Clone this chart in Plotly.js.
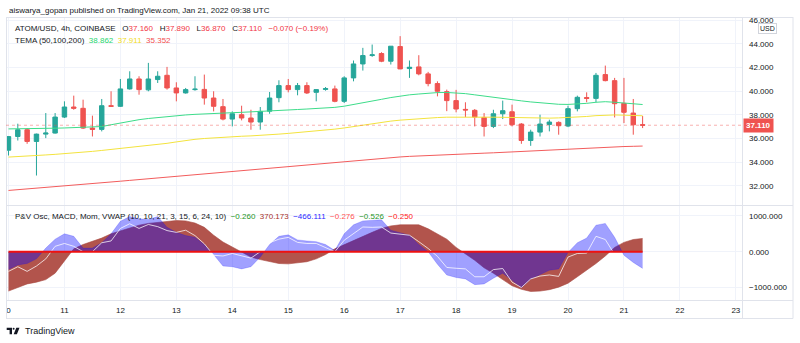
<!DOCTYPE html>
<html><head><meta charset="utf-8">
<script src="https://cdn.plot.ly/plotly-3.0.1.min.js"></script>
<style>html,body{margin:0;padding:0;background:#fff;}#chart{width:800px;height:343px;}</style>
</head><body><div id="chart"></div>
<script>
// ---------- DATA ----------
const times = [
 '2022-01-10 00:00','2022-01-10 04:00','2022-01-10 08:00','2022-01-10 12:00','2022-01-10 16:00','2022-01-10 20:00',
 '2022-01-11 00:00','2022-01-11 04:00','2022-01-11 08:00','2022-01-11 12:00','2022-01-11 16:00','2022-01-11 20:00',
 '2022-01-12 00:00','2022-01-12 04:00','2022-01-12 08:00','2022-01-12 12:00','2022-01-12 16:00','2022-01-12 20:00',
 '2022-01-13 00:00','2022-01-13 04:00','2022-01-13 08:00','2022-01-13 12:00','2022-01-13 16:00','2022-01-13 20:00',
 '2022-01-14 00:00','2022-01-14 04:00','2022-01-14 08:00','2022-01-14 12:00','2022-01-14 16:00','2022-01-14 20:00',
 '2022-01-15 00:00','2022-01-15 04:00','2022-01-15 08:00','2022-01-15 12:00','2022-01-15 16:00','2022-01-15 20:00',
 '2022-01-16 00:00','2022-01-16 04:00','2022-01-16 08:00','2022-01-16 12:00','2022-01-16 16:00','2022-01-16 20:00',
 '2022-01-17 00:00','2022-01-17 04:00','2022-01-17 08:00','2022-01-17 12:00','2022-01-17 16:00','2022-01-17 20:00',
 '2022-01-18 00:00','2022-01-18 04:00','2022-01-18 08:00','2022-01-18 12:00','2022-01-18 16:00','2022-01-18 20:00',
 '2022-01-19 00:00','2022-01-19 04:00','2022-01-19 08:00','2022-01-19 12:00','2022-01-19 16:00','2022-01-19 20:00',
 '2022-01-20 00:00','2022-01-20 04:00','2022-01-20 08:00','2022-01-20 12:00','2022-01-20 16:00','2022-01-20 20:00',
 '2022-01-21 00:00','2022-01-21 04:00','2022-01-21 08:00'];

const open  = [35.00,36.16,36.73,35.74,36.36,36.45, 37.80,38.65,38.54,36.87,36.76,38.76, 38.71,40.18,41.02,40.10,40.97,41.33,
               40.26,39.84,40.12,40.14,39.41,38.68, 37.63,38.00,37.72,37.38,38.30,39.44, 40.46,40.12,40.46,39.89,40.14,40.18,
               39.13,41.11,42.29,43.00,43.17,42.52, 43.76,41.90,42.04,41.45,40.63,39.95, 39.19,38.45,38.37,37.77,37.01,38.08,
               38.25,37.21,35.82,36.53,37.18,37.35, 37.04,38.51,39.45,39.38,41.39,40.88, 38.96,38.14,37.16];
const high  = [36.20,37.24,36.87,36.40,38.14,38.14, 39.13,39.61,39.27,37.92,39.33,39.98, 41.02,41.67,41.25,42.38,41.67,42.04,
               40.74,40.26,41.25,41.39,39.98,39.33, 38.28,38.76,38.42,38.65,39.92,40.91, 41.02,40.68,40.74,40.15,40.34,40.46,
               41.25,42.58,43.65,43.93,43.28,43.80, 44.64,42.58,43.03,41.62,40.82,40.12, 40.10,39.05,38.48,38.14,38.42,39.19,
               38.85,37.29,36.73,38.00,37.58,37.44, 38.76,39.61,39.89,41.53,42.15,41.11, 41.11,39.33,37.89];
const low   = [34.55,35.82,35.54,32.86,36.02,36.40, 37.72,38.42,36.79,36.16,36.59,38.68, 38.65,40.12,39.69,39.98,40.68,40.12,
               39.13,39.78,40.03,38.85,38.28,37.52, 37.01,37.52,36.73,36.73,38.08,39.05, 39.89,39.64,39.75,39.13,40.03,39.05,
               38.99,40.82,41.73,42.89,42.44,42.24, 41.85,41.11,41.33,40.40,39.55,38.30, 38.20,37.80,37.01,36.16,36.87,37.63,
               37.01,35.54,35.37,36.16,36.59,36.31, 36.95,38.28,39.05,39.05,40.82,37.77, 37.29,36.31,36.87];
const close = [36.15,36.73,35.74,36.36,36.45,37.80, 38.65,38.54,36.87,36.76,38.76,38.71, 40.18,41.02,40.12,41.02,41.25,40.26,
               39.84,40.12,40.16,39.41,38.71,37.63, 38.08,37.72,37.38,38.28,39.41,40.46, 40.12,40.46,39.84,40.12,40.20,39.13,
               41.11,42.29,43.00,43.06,42.52,43.79, 41.87,42.01,41.45,40.63,39.98,39.19, 38.48,38.40,37.80,37.01,38.08,38.34,
               37.15,35.82,36.53,37.21,37.38,37.07, 38.51,39.47,39.38,41.33,40.88,38.93, 38.20,37.15,37.11];

const tema50  = [36.80,36.80,36.81,36.82,36.84,36.86, 36.88,36.91,36.93,36.96,37.00,37.15, 37.30,37.45,37.58,37.68,37.77,37.85,
                 37.92,37.98,38.03,38.08,38.12,38.15, 38.17,38.20,38.23,38.27,38.31,38.35, 38.40,38.44,38.48,38.52,38.57,38.62,
                 38.72,38.85,39.00,39.15,39.30,39.45, 39.58,39.68,39.75,39.82,39.87,39.88, 39.85,39.78,39.68,39.57,39.45,39.35,
                 39.26,39.17,39.08,39.00,38.93,38.88, 38.87,38.90,38.96,39.05,39.10,39.05, 38.98,38.92,38.86];
const tema100 = [34.42,34.45,34.50,34.55,34.60,34.65, 34.70,34.76,34.82,34.90,34.98,35.06, 35.14,35.22,35.30,35.38,35.48,35.58,
                 35.70,35.82,35.92,35.99,36.05,36.10, 36.14,36.18,36.21,36.24,36.30,36.36, 36.42,36.48,36.55,36.62,36.70,36.78,
                 36.88,37.00,37.12,37.25,37.36,37.46, 37.54,37.61,37.67,37.72,37.76,37.79, 37.80,37.81,37.81,37.80,37.79,37.78,
                 37.76,37.73,37.71,37.70,37.71,37.73, 37.76,37.80,37.85,37.92,37.97,37.98, 37.96,37.93,37.91];
const tema200 = [31.60,31.66,31.72,31.79,31.85,31.92, 31.98,32.05,32.12,32.18,32.25,32.32, 32.38,32.45,32.52,32.58,32.65,32.72,
                 32.79,32.86,32.93,33.00,33.07,33.14, 33.21,33.28,33.35,33.42,33.49,33.56, 33.63,33.70,33.77,33.84,33.91,33.98,
                 34.05,34.12,34.19,34.26,34.32,34.38, 34.43,34.48,34.52,34.56,34.60,34.63, 34.66,34.69,34.72,34.75,34.78,34.82,
                 34.86,34.90,34.94,34.98,35.03,35.08, 35.13,35.17,35.21,35.24,35.27,35.29, 35.31,35.33,35.35];

const oscMacd = [-1100,-1000,-900,-850,-780,-600, -250,80,200,280,380,500, 580,660,740,790,810,840,
                 870,860,800,680,460,270, 130,-20,-150,-220,-280,-330, -340,-320,-280,-200,-80,80,
                 200,320,430,540,650,720, 750,760,750,640,500,350, 120,-60,-240,-450,-600,-780,
                 -950,-1050,-1110,-1100,-1060,-990, -880,-700,-520,-330,-120,120, 260,340,370];
const oscMom  = [-500,-370,-330,-200,100,350, 500,430,100,100,250,500, 850,980,920,900,980,680,
                 540,450,400,200,-80,-400, -420,-480,-420,-150,200,430, 470,330,300,280,200,30,
                 500,750,860,880,890,600, 530,460,200,0,-350,-650, -720,-760,-920,-900,-740,-600,
                 -800,-1010,-760,-650,-520,-480, -20,250,380,740,790,400, -100,-300,-466];
const oscLine = [-550,-420,-550,-400,-200,150, 230,150,0,0,250,300, 650,780,650,760,700,590,
                 540,600,450,220,-100,-120, -50,-120,-180,0,250,350, 400,260,230,230,120,0,
                 320,500,690,680,690,520, 480,460,280,90,-130,-440, -463,-480,-700,-700,-500,-470,
                 -850,-1000,-760,-680,-650,-690, -150,-50,-40,430,340,-80, null,null,null];

const dayTicks  = ['2022-01-10','2022-01-11','2022-01-12','2022-01-13','2022-01-14','2022-01-15','2022-01-16',
                   '2022-01-17','2022-01-18','2022-01-19','2022-01-20','2022-01-21','2022-01-22','2022-01-23'];
const dayLabels = ['0','11','12','13','14','15','16','17','18','19','20','21','22','23'];
const priceTicks = [32,34,36,38,40,42,44,46];
const oscTicks = [-1000,0,1000];
const oscTickLabels = ['\u22121000.000','0.000','1000.000'];

// ---------- LAYOUT HELPERS ----------
const PL = 6, PR = 742, PT = 17, PB = 300;
const px = p => (p - PL) / (PR - PL);
const py = p => (PB - p) / (PB - PT);
const FONT = 'Liberation Sans, Arial, sans-serif';
const DARK = '#131722';
const GRID = '#f0f3fa';
const BORDER = '#e0e3eb';
const mainBottom = py(205.5);

const traces = [
  {type:'candlestick', x:times, open:open, high:high, low:low, close:close, xaxis:'x', yaxis:'y',
   increasing:{line:{color:'#26a69a', width:1}, fillcolor:'#26a69a'},
   decreasing:{line:{color:'#ef5350', width:1}, fillcolor:'#ef5350'},
   whiskerwidth:0, hoverinfo:'skip'},
  {type:'scatter', mode:'lines', x:times, y:tema200, line:{color:'#f25c5c', width:1}, xaxis:'x', yaxis:'y', hoverinfo:'skip'},
  {type:'scatter', mode:'lines', x:times, y:tema100, line:{color:'#f3e33e', width:1}, xaxis:'x', yaxis:'y', hoverinfo:'skip'},
  {type:'scatter', mode:'lines', x:times, y:tema50, line:{color:'#3ddc8a', width:1}, xaxis:'x', yaxis:'y', hoverinfo:'skip'},
  {type:'scatter', mode:'lines', x:times, y:oscMacd, fill:'tozeroy', fillcolor:'rgb(178,84,76)',
   line:{color:'rgb(168,72,64)', width:0.6}, xaxis:'x', yaxis:'y2', hoverinfo:'skip'},
  {type:'scatter', mode:'lines', x:times, y:oscMom, fill:'tozeroy', fillcolor:'rgba(5,5,255,0.38)',
   line:{color:'rgba(5,5,255,0.3)', width:0.6}, xaxis:'x', yaxis:'y2', hoverinfo:'skip'},
  {type:'scatter', mode:'lines', x:times, y:oscLine, line:{color:'rgba(255,255,255,0.75)', width:1},
   xaxis:'x', yaxis:'y2', hoverinfo:'skip', connectgaps:false}
];

function hline(y, x0, x1){ return {type:'line', xref:'paper', yref:'paper', x0:px(x0), x1:px(x1), y0:py(y), y1:py(y), line:{color:BORDER, width:1}}; }
function vline(x, y0, y1){ return {type:'line', xref:'paper', yref:'paper', x0:px(x), x1:px(x), y0:py(y0), y1:py(y1), line:{color:BORDER, width:1}}; }
function pathPx(pts){ return 'M' + pts.map(p => px(p[0]) + ',' + py(p[1])).join(' L') + ' Z'; }

const shapes = [
  hline(17.5, 6, 793), hline(205.5, 6, 793), hline(300.5, 6, 793), hline(318.5, 6, 793),
  vline(6.5, 17, 318.5), vline(742.5, 17, 318.5), vline(793, 17, 318.5),
  {type:'line', xref:'paper', yref:'y', x0:0, x1:1, y0:close[close.length-1], y1:close[close.length-1],
   line:{color:'rgba(239,83,80,0.45)', width:1, dash:'dot'}},
  {type:'line', xref:'x', yref:'y2', x0:times[0], x1:times[times.length-1], y0:0, y1:0,
   line:{color:'#ee1111', width:2}},
  // TradingView logo
  {type:'path', xref:'paper', yref:'paper', path:pathPx([[6.7,327.7],[12,327.7],[12,334.2],[9.6,334.2],[9.6,330],[6.7,330]]),
   fillcolor:DARK, line:{width:0}},
  {type:'circle', xref:'paper', yref:'paper', x0:px(12.6), x1:px(14.6), y0:py(327.7), y1:py(329.7), fillcolor:DARK, line:{width:0}},
  {type:'path', xref:'paper', yref:'paper', path:pathPx([[16.3,327.7],[19.5,327.7],[16.9,334.2],[13.7,334.2]]),
   fillcolor:DARK, line:{width:0}}
];

const nb = '\u00a0';
const sp3 = nb + nb + nb;
function col(c, t){ return '<span style="color:' + c + '">' + t + '</span>'; }
const RED = '#f23645';
const annotations = [
  {xref:'paper', yref:'paper', x:px(6.5), y:py(10), xanchor:'left', yanchor:'middle', showarrow:false,
   text:'aiswarya_gopan published on TradingView.com, Jan 21, 2022 09:38 UTC', font:{family:FONT, size:8, color:DARK}},
  {xref:'paper', yref:'paper', x:px(12.5), y:py(28.3), xanchor:'left', yanchor:'middle', showarrow:false,
   text:'ATOM/USD, 4h, COINBASE' + sp3 + 'O' + col(RED,'37.160') + sp3 + 'H' + col(RED,'37.890') + sp3 +
        'L' + col(RED,'36.870') + sp3 + 'C' + col(RED,'37.110') + sp3 + col(RED,'\u22120.070 (\u22120.19%)'),
   font:{family:FONT, size:8, color:DARK}},
  {xref:'paper', yref:'paper', x:px(12.5), y:py(40.7), xanchor:'left', yanchor:'middle', showarrow:false,
   text:'TEMA (50,100,200)' + nb + nb + col('#1fd66e','38.862') + nb + nb + col('#f2dc1c','37.911') + nb + nb + col('#f24f4f','35.352'),
   font:{family:FONT, size:8, color:DARK}},
  {xref:'paper', yref:'paper', x:px(12.5), y:py(216.3), xanchor:'left', yanchor:'middle', showarrow:false,
   text:'P&amp;V Osc, MACD, Mom, VWAP (10, 10, 21, 3, 15, 6, 24, 10)' + nb + nb + col('#1e961e','\u22120.260') + nb + nb +
        col('#a8322a','370.173') + nb + nb + col('#2a2aff','\u2212466.111') + nb + nb + col('#ff5252','\u22120.276') + nb + nb +
        col('#1e961e','\u22120.526') + nb + nb + col('#ff2020','\u22120.250'),
   font:{family:FONT, size:8, color:DARK}},
  {xref:'paper', yref:'paper', x:px(767.5), y:py(28.5), xanchor:'center', yanchor:'middle', showarrow:false,
   text:'USD', font:{family:FONT, size:7, color:DARK}, bgcolor:'#ffffff', bordercolor:'#d1d4dc', borderwidth:1, borderpad:1},
  {xref:'paper', yref:'y', x:px(742.5), y:close[close.length-1], xanchor:'left', yanchor:'middle', showarrow:false,
   text:'<b>37.110</b>', font:{family:FONT, size:8, color:'#ffffff'}, bgcolor:'#ef5350', borderpad:2},
  {xref:'paper', yref:'paper', x:px(22.5), y:py(331.3), xanchor:'left', yanchor:'middle', showarrow:false,
   text:'TradingView', font:{family:FONT, size:9, color:DARK}}
];

const layout = {
  width:800, height:343, paper_bgcolor:'#ffffff', plot_bgcolor:'#ffffff',
  margin:{l:PL, r:800-PR, t:PT, b:343-PB, pad:0},
  showlegend:false, boxgap:0.32, dragmode:false, hovermode:false,
  font:{family:FONT, size:8, color:DARK},
  xaxis:{type:'date', anchor:'y2', range:['2022-01-09 22:56','2022-01-23 02:38'], rangeslider:{visible:false},
         tickvals:dayTicks, ticktext:dayLabels, ticks:'', showgrid:true, gridcolor:GRID, gridwidth:1,
         zeroline:false, showline:false, tickfont:{family:FONT, size:8, color:DARK}, ticklabelstandoff:4},
  yaxis:{domain:[mainBottom,1], range:[30.327,46.257], side:'right', anchor:'x', tickvals:priceTicks, tickformat:'.3f',
         ticks:'', showgrid:true, gridcolor:GRID, zeroline:false, showline:false,
         tickfont:{family:FONT, size:8, color:DARK}, ticklabelstandoff:6},
  yaxis2:{domain:[0,mainBottom], range:[-1349,1290], side:'right', anchor:'x', tickvals:oscTicks, ticktext:oscTickLabels,
          ticks:'', showgrid:true, gridcolor:GRID, zeroline:false, showline:false,
          tickfont:{family:FONT, size:8, color:DARK}, ticklabelstandoff:6},
  shapes:shapes, annotations:annotations
};

Plotly.newPlot('chart', traces, layout, {staticPlot:true, displayModeBar:false});
</script></body></html>
